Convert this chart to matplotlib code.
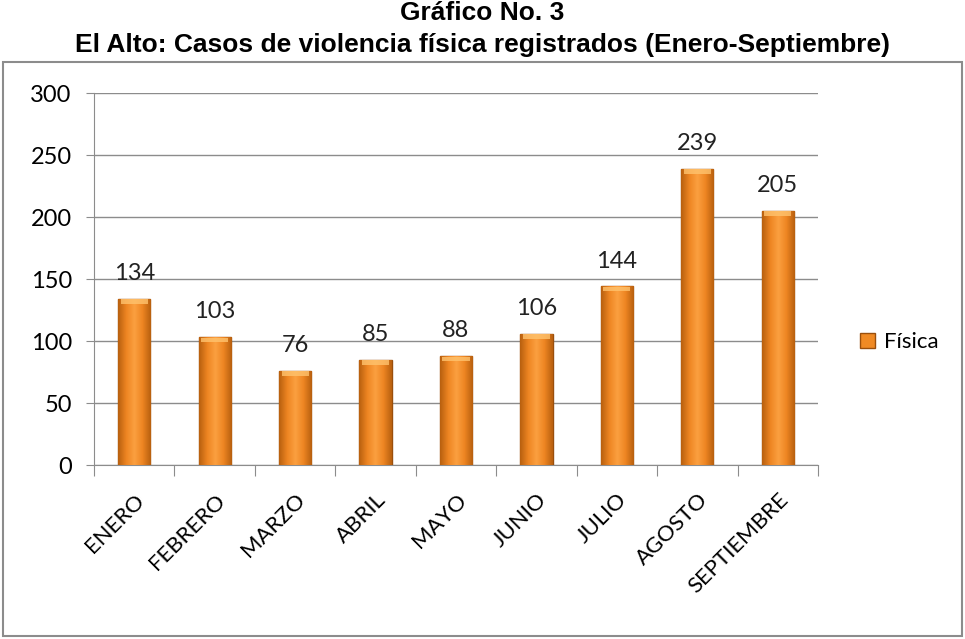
import numpy as np
import matplotlib.pyplot as plt
from matplotlib.patches import Rectangle
from matplotlib.colors import LinearSegmentedColormap

# data
months = ["ENERO", "FEBRERO", "MARZO", "ABRIL", "MAYO",
          "JUNIO", "JULIO", "AGOSTO", "SEPTIEMBRE"]
fisica = [134, 103, 76, 85, 88, 106, 144, 239, 205]
y_ticks = [0, 50, 100, 150, 200, 250, 300]

plt.rcParams['font.family'] = ['Lato', 'DejaVu Sans']

fig = plt.figure(figsize=(9.65, 6.39), dpi=100)

# title above the chart frame
title_font = dict(fontsize=19, fontweight='bold', family=['Liberation Sans', 'DejaVu Sans'])
fig.text(0.5, 1 - 13 / 639, "Gráfico No. 3", ha='center', va='center', **title_font)
fig.text(0.5, 1 - 45 / 639, "El Alto: Casos de violencia física registrados (Enero-Septiembre)",
         ha='center', va='center', **title_font)

# chart frame
frame = Rectangle((3 / 965, 3 / 639), 959 / 965, 574 / 639, transform=fig.transFigure,
                  fill=False, edgecolor='#8c8c8c', linewidth=1.5)
fig.patches.append(frame)

ax = fig.add_axes([94 / 965, 1 - 465 / 639, 724 / 965, 372 / 639])

x = np.arange(len(months))
bars = ax.bar(x, fisica, width=0.4, color='#F08A24', edgecolor='#9a4f0c',
              linewidth=1.0, zorder=3, label='Física')

# horizontal shading so the bars look rounded like the original
shade = LinearSegmentedColormap.from_list(
    'shade', ['#B8600F', '#EE8522', '#FBA040', '#EE8522', '#B8600F'])
grad = np.linspace(0, 1, 64).reshape(1, -1)
for b in bars:
    x0, w, h = b.get_x(), b.get_width(), b.get_height()
    im = ax.imshow(grad, cmap=shade, aspect='auto', extent=(x0, x0 + w, 0, h),
                   zorder=3.5, interpolation='bicubic')
    im.set_clip_path(b)
    # lighter cap at the top of each bar
    ax.add_patch(Rectangle((x0 + w * 0.08, h - 4), w * 0.84, 3.5, facecolor='#FFC36E',
                           edgecolor='none', alpha=0.8, zorder=4))
    ax.text(b.get_x() + w / 2, h + 12, str(int(h)), ha='center', va='bottom',
            fontsize=17, color='#222222', zorder=5)

ax.set_xlim(-0.5, len(months) - 0.5)
ax.set_ylim(0, 300)
ax.set_yticks(y_ticks)
ax.set_yticklabels([str(v) for v in y_ticks], fontsize=17)
ax.yaxis.grid(True, color='#8c8c8c', linewidth=1.0, zorder=0)
ax.set_axisbelow(True)

# category ticks sit between bars
ax.set_xticks(np.arange(len(months) + 1) - 0.5)
ax.set_xticklabels([])
ax.set_xticks(x, minor=True)
ax.set_xticklabels(months, minor=True, rotation=45, ha='right', va='top',
                   rotation_mode='anchor', fontsize=16)
ax.tick_params(axis='x', which='major', length=8, color='#8c8c8c')
ax.tick_params(axis='x', which='minor', length=0, pad=18)
ax.tick_params(axis='y', length=6, color='#8c8c8c', pad=10)

for side in ['top', 'right']:
    ax.spines[side].set_visible(False)
ax.spines['left'].set_color('#8c8c8c')
ax.spines['bottom'].set_color('#8c8c8c')

leg = ax.legend(loc='center left', bbox_to_anchor=(1.03, 0.33), frameon=False,
                fontsize=16, handlelength=0.7, handleheight=0.7, handletextpad=0.4)

fig.savefig("out.png", dpi=100)
